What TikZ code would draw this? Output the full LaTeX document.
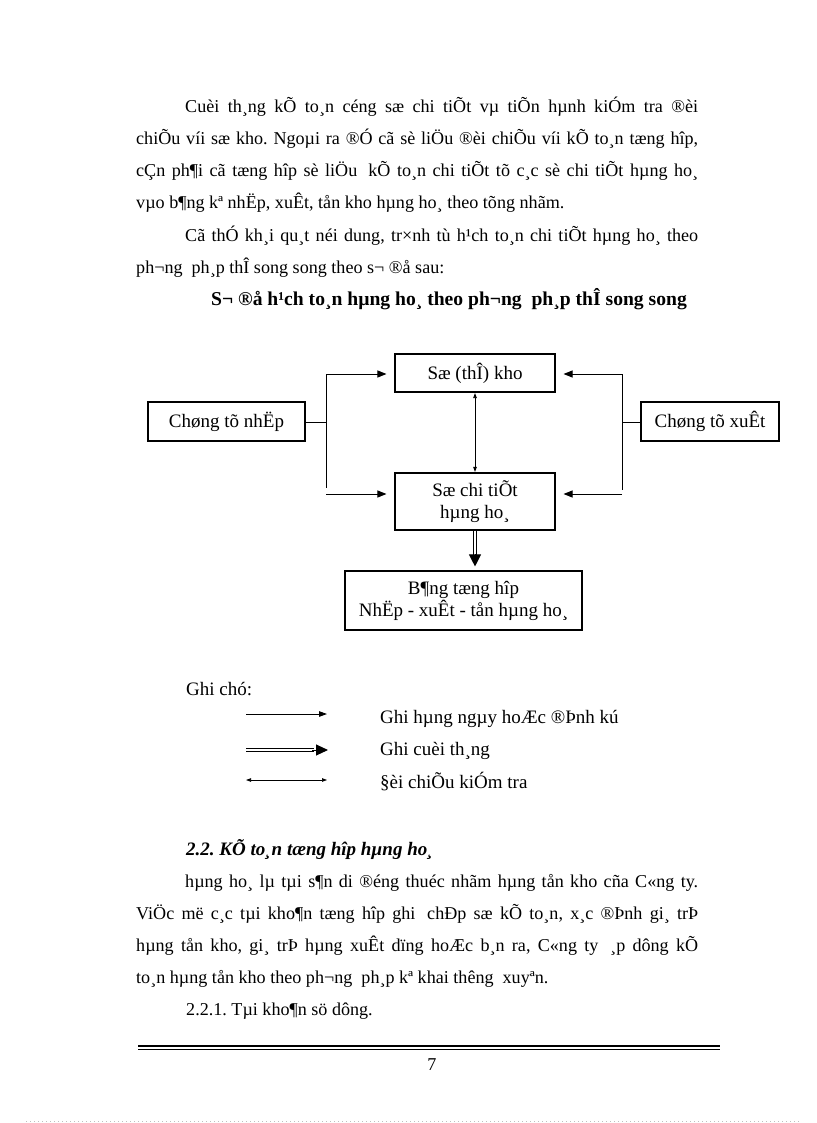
\documentclass[tikz,border=0pt]{standalone}
\usepackage{fontspec}
\setmainfont{Liberation Serif}
\usetikzlibrary{arrows.meta,calc}
\begin{document}
\frenchspacing
\begin{tikzpicture}[x=1pt,y=-1pt,
  txt/.style={anchor=base west,inner sep=0pt,font=\fontsize{18.1}{22}\selectfont},
  lg/.style={anchor=base west,inner sep=0pt,font=\fontsize{19}{22}\selectfont},
  box/.style={draw,line width=1.1pt,inner sep=0pt,align=center,font=\fontsize{19}{22}\selectfont},
  conn/.style={line width=1pt},
  arr/.style={line width=1pt,-{Triangle[length=9pt,width=7pt]}},
  darr/.style={line width=0.8pt,{Triangle[length=5pt,width=3.5pt]}-{Triangle[length=5pt,width=3.5pt]}},
  dbl/.style={double,double distance=1.6pt,line width=1.1pt}
]
\useasboundingbox (0,0) rectangle (816,1123);
\fill[white] (0,0) rectangle (816,1123);

% paragraph 1
\node[txt] (l1) at (185,113) {\makebox[513pt][s]{Cuèi th¸ng kÕ to¸n céng sæ chi tiÕt vµ tiÕn hµnh kiÓm tra ®èi}};
\node[txt] (l2) at (136,145) {\makebox[562pt][s]{chiÕu víi sæ kho. Ngoµi ra ®Ó cã sè liÖu ®èi chiÕu víi kÕ to¸n tæng hîp,}};
\node[txt] (l3) at (136,177) {\makebox[562pt][s]{cÇn ph¶i cã tæng hîp sè liÖu\hspace{0.25em} kÕ to¸n chi tiÕt tõ c¸c sè chi tiÕt hµng ho¸}};
\node[txt] (l4) at (136,209) {vµo b¶ng kª nhËp, xuÊt, tån kho hµng ho¸ theo tõng nhãm.};
\node[txt] (l5) at (185,241) {\makebox[513pt][s]{Cã thÓ kh¸i qu¸t néi dung, tr×nh tù h¹ch to¸n chi tiÕt hµng ho¸ theo}};
\node[txt] (l6) at (136,273) {ph¬ng\hspace{0.25em} ph¸p thÎ song song theo s¬ ®å sau:};
\node[txt,anchor=base,font=\fontsize{19.6}{22}\selectfont\bfseries] (title) at (449,305) {S¬ ®å h¹ch to¸n hµng ho¸ theo ph¬ng\ \ ph¸p thÎ song song};

% diagram boxes
\node[box,minimum width=160pt,minimum height=38pt] (kho) at (475,373) {Sæ (thÎ) kho};
\node[box,minimum width=157pt,minimum height=39pt] (nhap) at (226.5,421.5) {Chøng tõ nhËp};
\node[box,minimum width=138pt,minimum height=39pt] (xuat) at (710,421.5) {Chøng tõ xuÊt};
\node[box,minimum width=160pt,minimum height=57pt] (sct) at (475,501.5) {Sæ chi tiÕt\\hµng ho¸};
\node[box,minimum width=237pt,minimum height=59pt] (bang) at (463.5,600.5) {B¶ng tæng hîp\\NhËp - xuÊt - tån hµng ho¸};

% junction coordinates
\coordinate (jl) at (326,422);
\coordinate (jlt) at (326,374);
\coordinate (jlb) at (326,488);
\coordinate (jlb2) at (326,494);
\coordinate (jr) at (622,422);
\coordinate (jrt) at (622,374);
\coordinate (jrb) at (622,490);
\coordinate (jrb2) at (622,494);

% left connectors
\draw[conn] (nhap.east |- jl) -- (jl);
\draw[conn] (jlt) -- (jlb);
\draw[arr,shorten >=8pt] (jlt) -- (jlt -| kho.west);
\draw[arr,shorten >=8pt] (jlb2) -- (jlb2 -| sct.west);
% right connectors
\draw[conn] (xuat.west |- jr) -- (jr);
\draw[conn] (jrt) -- (jrb);
\draw[arr,shorten >=8pt] (jrt) -- (jrt -| kho.east);
\draw[arr,shorten >=8pt] (jrb2) -- (jrb2 -| sct.east);
% vertical check arrow
\draw[darr,shorten <=0.5pt,shorten >=0.5pt] (kho.south) -- (sct.north);
% month-end double arrow
\coordinate (db) at (sct.south |- bang.north);
\draw[dbl,shorten >=12pt] (sct.south) -- (db);
\coordinate (dt) at ($(db)+(0,-16)$);
\draw[line width=1pt,-{Triangle[length=12pt,width=12pt]},shorten >=4pt] (dt) -- (db);

% legend
\node[lg] (gc) at (186,695) {Ghi chó:};
\coordinate (a1s) at (246,714); \coordinate (a1e) at (327,714);
\draw[line width=0.9pt,-{Triangle[length=8pt,width=5.5pt]}] (a1s) -- (a1e);
\node[lg] (g1) at (380,723) {Ghi hµng ngµy hoÆc ®Þnh kú};
\coordinate (a2s) at (246,750); \coordinate (a2e) at (314,750);
\draw[dbl] (a2s) -- (a2e);
\coordinate (a2t) at (312,750); \coordinate (a2h) at (328,750);
\draw[line width=1pt,-{Triangle[length=12pt,width=11pt]}] (a2t) -- (a2h);
\node[lg] (g2) at (380,755) {Ghi cuèi th¸ng};
\coordinate (a3s) at (246,780); \coordinate (a3e) at (327,780);
\draw[line width=0.7pt,{Triangle[length=5pt,width=3.5pt]}-{Triangle[length=5pt,width=3.5pt]}] (a3s) -- (a3e);
\node[lg] (g3) at (380,788) {§èi chiÕu kiÓm tra};

% section 2.2
\node[txt,font=\fontsize{19}{22}\selectfont\bfseries\itshape] (h22) at (186,855) {2.2. KÕ to¸n tæng hîp hµng ho¸};
\node[txt] (s1) at (185,887) {\makebox[513pt][s]{hµng ho¸ lµ tµi s¶n di ®éng thuéc nhãm hµng tån kho cña C«ng ty.}};
\node[txt] (s2) at (136,919) {\makebox[562pt][s]{ViÖc më c¸c tµi kho¶n tæng hîp ghi\hspace{0.25em} chÐp sæ kÕ to¸n, x¸c ®Þnh gi¸ trÞ}};
\node[txt] (s3) at (136,951) {\makebox[562pt][s]{hµng tån kho, gi¸ trÞ hµng xuÊt dïng hoÆc b¸n ra, C«ng ty\hspace{0.25em} ¸p dông kÕ}};
\node[txt] (s4) at (136,983) {to¸n hµng tån kho theo ph¬ng\hspace{0.25em} ph¸p kª khai thêng\hspace{0.25em} xuyªn.};
\node[txt] (s5) at (186,1015) {2.2.1. Tµi kho¶n sö dông.};

% footer
\coordinate (fl) at (138,1046); \coordinate (fr) at (720,1046);
\draw[line width=2pt] (fl) -- (fr);
\draw[line width=0.9pt] ($(fl)+(0,3.5)$) -- ($(fr)+(0,3.5)$);
\node[txt,anchor=base] (pn) at (432,1070) {7};
\coordinate (dl) at (26,1121.5); \coordinate (dr) at (800,1121.5);
\draw[gray!50,line width=0.8pt,dash pattern=on 1pt off 3pt] (dl) -- (dr);
\end{tikzpicture}
\end{document}
